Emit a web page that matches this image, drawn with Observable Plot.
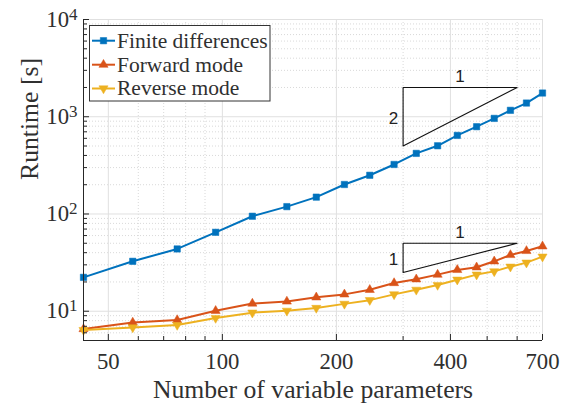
<!DOCTYPE html>
<html><head><meta charset="utf-8">
<script src="https://cdn.jsdelivr.net/npm/d3@7"></script>
<script src="https://cdn.jsdelivr.net/npm/@observablehq/plot@0.6"></script>
<style>
html,body{margin:0;padding:0;background:#fff;}
#chart{position:relative;width:565px;height:403px;}
</style>
</head><body><div id="chart"></div>
<script>
// ---- data ----
const params = [43, 58, 76, 96, 120, 148, 177, 210, 245, 284, 325, 370, 417, 469, 522, 576, 635, 700];
const finiteDifferences = [22.3, 32.6, 43.7, 64.8, 94.8, 119, 149, 201, 250, 323, 420, 503, 643, 790, 962, 1164, 1383, 1753];
const forwardMode = [6.56, 7.67, 8.12, 10.1, 12.0, 12.6, 13.9, 14.9, 16.6, 19.5, 21.3, 23.8, 26.6, 28.3, 32.6, 37.9, 41.7, 46.5];
const reverseMode = [6.40, 6.81, 7.21, 8.51, 9.66, 10.1, 10.8, 11.9, 13.0, 14.9, 16.6, 18.6, 21.1, 23.8, 25.7, 28.7, 31.6, 36.4];
const seriesNames = ["Finite differences", "Forward mode", "Reverse mode"];
const seriesColors = ["#0072BD", "#D95319", "#EDB120"];
const xDomain = [43, 700];
const yDomain = [5, 10000];
const xTicks = [50, 100, 200, 400, 700];
const xMinor = [60, 70, 80, 90, 300, 500, 600];
const yTicks = [10, 100, 1000, 10000];
const yMinor = [6, 7, 8, 9, 20, 30, 40, 50, 60, 70, 80, 90, 200, 300, 400, 500, 600, 700, 800, 900, 2000, 3000, 4000, 5000, 6000, 7000, 8000, 9000];
const xLabel = "Number of variable parameters";
const yLabel = "Runtime [s]";
// slope triangles (data coordinates)
const slope2Tri = [{x: 300, y: 2000}, {x: 600, y: 2000}, {x: 300, y: 500}, {x: 300, y: 2000}];
const slope1Tri = [{x: 300, y: 50}, {x: 600, y: 50}, {x: 300, y: 25}, {x: 300, y: 50}];
const slopeTopLabels = [{x: 424, y: 2000, t: "1"}, {x: 424, y: 50, t: "1"}];
const slopeSideLabels = [{x: 300, y: 1000, t: "2"}, {x: 300, y: 35.4, t: "1"}];

// ---- build table ----
const seriesValues = [finiteDifferences, forwardMode, reverseMode];
const series = seriesValues.map((vals, k) => params.map((x, i) => ({x, y: vals[i], s: seriesNames[k]})));

const W = 565, H = 403;
const M = {top: 19, right: 23, bottom: 63, left: 83};
const innerW = W - M.left - M.right, innerH = H - M.top - M.bottom;
const serif = "'Liberation Serif', 'Times New Roman', serif";
const sans = "'Liberation Sans', Arial, sans-serif";
const textColor = "#303030";
const axisColor = "#262626";

const symbols = ["square", "triangle", "triangle"];
const rotations = [0, 0, 180];
const radii = [3.6, 3.4, 3.4];

const marks = [
  Plot.ruleX(xMinor, {stroke: "#cfcfcf", strokeDasharray: "1,2", strokeWidth: 0.8}),
  Plot.ruleY(yMinor, {stroke: "#cfcfcf", strokeDasharray: "1,2", strokeWidth: 0.8}),
  Plot.ruleX(xTicks, {stroke: "#e0e0e0", strokeWidth: 1}),
  Plot.ruleY(yTicks, {stroke: "#e0e0e0", strokeWidth: 1}),
  Plot.line(slope2Tri, {x: "x", y: "y", stroke: "#111", strokeWidth: 1.1}),
  Plot.line(slope1Tri, {x: "x", y: "y", stroke: "#111", strokeWidth: 1.1}),
  Plot.text(slopeTopLabels, {x: "x", y: "y", text: "t", fontFamily: sans, fontSize: 17, fill: "#222", dy: -11, lineAnchor: "middle"}),
  Plot.text(slopeSideLabels, {x: "x", y: "y", text: "t", fontFamily: sans, fontSize: 17, fill: "#222", dx: -5, dy: 2, textAnchor: "end", lineAnchor: "middle"})
];
series.forEach((d, k) => {
  marks.push(Plot.line(d, {x: "x", y: "y", stroke: seriesColors[k], strokeWidth: 2}));
  marks.push(Plot.dot(d, {x: "x", y: "y", symbol: symbols[k], r: radii[k], rotate: rotations[k], fill: seriesColors[k], stroke: seriesColors[k], strokeWidth: 0.5}));
});
marks.push(
  Plot.ruleX([xDomain[0]], {stroke: axisColor, strokeWidth: 1}),
  Plot.ruleY([yDomain[0]], {stroke: axisColor, strokeWidth: 1}),
  Plot.ruleX(xTicks, {stroke: axisColor, insetTop: innerH - 6}),
  Plot.ruleX(xMinor, {stroke: axisColor, insetTop: innerH - 4}),
  Plot.ruleY(yTicks, {stroke: axisColor, insetRight: innerW - 6}),
  Plot.ruleY(yMinor, {stroke: axisColor, insetRight: innerW - 4}),
  Plot.text([xLabel], {frameAnchor: "bottom", dy: 49, fontFamily: serif, fontSize: 25.7, fill: textColor, lineAnchor: "middle"}),
  Plot.text([yLabel], {frameAnchor: "left", dx: -54, rotate: -90, fontFamily: serif, fontSize: 25.7, fill: textColor, lineAnchor: "middle"})
);

const svg = Plot.plot({
  width: W, height: H,
  marginTop: M.top, marginRight: M.right, marginBottom: M.bottom, marginLeft: M.left,
  style: {fontFamily: serif, fontSize: "22.7px", color: textColor, background: "#fff"},
  x: {type: "log", domain: xDomain, ticks: xTicks, tickFormat: d => String(d), tickSize: 0, tickPadding: 12, label: null},
  y: {type: "log", domain: yDomain, ticks: yTicks, tickFormat: d => "10^" + Math.round(Math.log10(d)), tickSize: 0, tickPadding: 6, label: null},
  marks
});
document.getElementById("chart").appendChild(svg);

// superscript exponents on y tick labels
d3.select(svg).selectAll("text").each(function() {
  const m = /^10\^(\d+)$/.exec(this.textContent.trim());
  if (m) {
    const sel = d3.select(this);
    sel.selectAll("*").remove();
    sel.text(null);
    sel.append("tspan").text("10");
    sel.append("tspan").attr("dy", "-0.42em").attr("font-size", "0.75em").text(m[1]);
  }
});

// legend overlay
const leg = d3.select("#chart").append("svg")
  .attr("width", W).attr("height", H)
  .style("position", "absolute").style("left", "0px").style("top", "0px");
leg.append("rect").attr("x", 89.5).attr("y", 25.5).attr("width", 180.5).attr("height", 75.5)
  .attr("fill", "#fff").attr("stroke", "#333").attr("stroke-width", 1);
const rowY = [40.7, 64.7, 88.5];
seriesNames.forEach((name, k) => {
  const g = leg.append("g");
  g.append("line").attr("x1", 92).attr("x2", 115).attr("y1", rowY[k]).attr("y2", rowY[k])
    .attr("stroke", seriesColors[k]).attr("stroke-width", 2);
  const sym = symbols[k] === "square" ? d3.symbolSquare : d3.symbolTriangle;
  g.append("path").attr("d", d3.symbol(sym, Math.PI * radii[k] * radii[k])())
    .attr("transform", `translate(103.5,${rowY[k]}) rotate(${rotations[k]})`)
    .attr("fill", seriesColors[k]).attr("stroke", seriesColors[k]).attr("stroke-width", 0.5);
  g.append("text").attr("x", 117).attr("y", rowY[k]).attr("dy", "0.32em")
    .attr("font-family", serif).attr("font-size", 21.5).attr("fill", textColor).text(name);
});
</script>
</body></html>
